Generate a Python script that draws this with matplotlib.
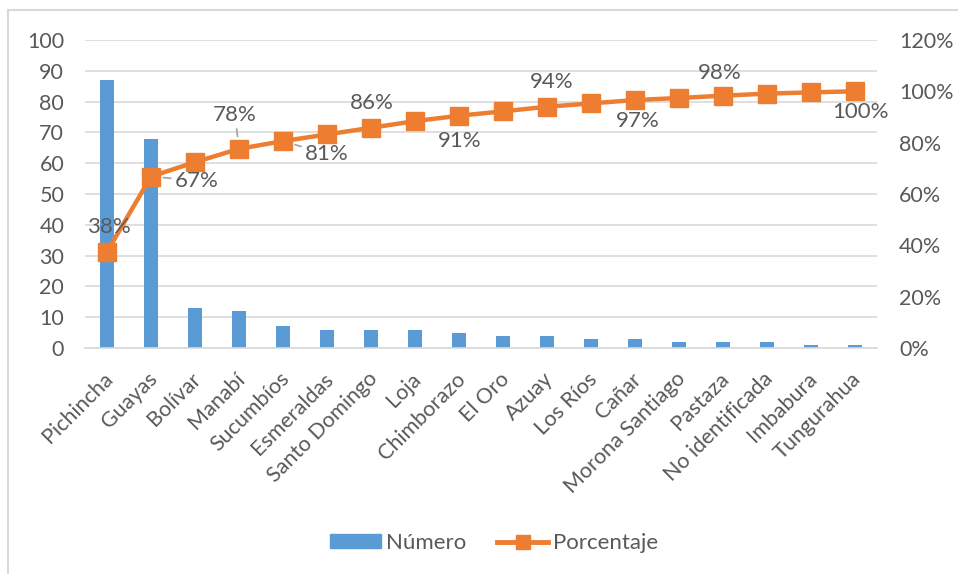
import matplotlib
matplotlib.use('Agg')
import matplotlib.pyplot as plt
import matplotlib.ticker as ticker
import matplotlib.transforms as mtransforms
from matplotlib.patches import Patch
from matplotlib.lines import Line2D

plt.rcParams['font.family'] = ['Lato', 'DejaVu Sans']

provincias = ['Pichincha', 'Guayas', 'Bolívar', 'Manabí', 'Sucumbíos', 'Esmeraldas',
              'Santo Domingo', 'Loja', 'Chimborazo', 'El Oro', 'Azuay', 'Los Ríos',
              'Cañar', 'Morona Santiago', 'Pastaza', 'No identificada', 'Imbabura',
              'Tungurahua']
numero = [87, 68, 13, 12, 7, 6, 6, 6, 5, 4, 4, 3, 3, 2, 2, 2, 1, 1]
porcentaje = [37.5, 66.8, 72.4, 77.6, 80.6, 83.2, 85.8, 88.4, 90.5, 92.2,
              94.0, 95.3, 96.6, 97.4, 98.3, 99.1, 99.6, 100.0]
etiquetas = ['38%', '67%', None, '78%', '81%', None, '86%', None, '91%', None,
             '94%', None, '97%', None, '98%', None, None, '100%']

# label offsets in pixels (dx, dy with y up) and whether a leader line is drawn
offsets = {0: (2, 25, False), 1: (46, -4, True), 3: (-4, 34, True), 4: (44, -13, True),
           6: (1, 25, False), 8: (1, -25, False), 10: (5, 25, False), 12: (3, -21, False),
           14: (-3, 23, False), 17: (5, -21, False)}

azul = '#5B9BD5'
naranja = '#ED7D31'
gris = '#595959'
grid_c = '#D9D9D9'

W, H = 958, 574
fig = plt.figure(figsize=(W / 100, H / 100), dpi=100)
ax = fig.add_axes([85 / W, 1 - 348 / H, (877 - 85) / W, (348 - 40) / H])
ax2 = ax.twinx()

x = range(len(provincias))
ax.bar(x, numero, width=0.32, color=azul, zorder=2)
ax.set_ylim(0, 100)
ax.set_xlim(-0.5, len(provincias) - 0.5)
ax.yaxis.set_major_locator(ticker.MultipleLocator(10))
ax.grid(axis='y', color=grid_c, linewidth=1.2, zorder=0)
ax.set_axisbelow(True)

ax2.plot(x, porcentaje, color=naranja, linewidth=3.2, marker='s', markersize=13, zorder=3)
ax2.set_ylim(0, 120)
ax2.yaxis.set_major_locator(ticker.MultipleLocator(20))
ax2.yaxis.set_major_formatter(ticker.FuncFormatter(lambda v, p: f'{v:.0f}%'))

for a in (ax, ax2):
    for s in a.spines.values():
        s.set_visible(False)
    a.tick_params(length=0, labelsize=15.5, colors=gris)
ax.spines['bottom'].set_visible(True)
ax.spines['bottom'].set_color(grid_c)
ax.spines['bottom'].set_linewidth(1.2)
ax.tick_params(axis='y', pad=15)
ax2.tick_params(axis='y', pad=16)

ax.set_xticks(list(x))
ax.set_xticklabels(provincias, rotation=45, ha='right', va='top', rotation_mode='anchor')
ax.tick_params(axis='x', pad=15)
shift = mtransforms.ScaledTranslation(-4 / 100, 0, fig.dpi_scale_trans)
for lbl in ax.get_xticklabels():
    lbl.set_transform(lbl.get_transform() + shift)

for i, txt in enumerate(etiquetas):
    if txt is None:
        continue
    dx, dy, leader = offsets[i]
    props = dict(arrowstyle='-', color='#A6A6A6', lw=1.3, shrinkA=1, shrinkB=9) if leader else None
    ax2.annotate(txt, (i, porcentaje[i]), xytext=(dx, dy), textcoords='offset pixels',
                 ha='center', va='center', fontsize=16, color=gris,
                 arrowprops=props, zorder=4)

handles = [Patch(facecolor=azul, edgecolor=azul),
           Line2D([], [], color=naranja, linewidth=3.5, marker='s', markersize=10)]
fig.legend(handles, ['Número', 'Porcentaje'], loc='center', bbox_to_anchor=(494 / W, 1 - 543 / H),
           ncol=2, frameon=False, fontsize=16, labelcolor=gris, handlelength=2.3,
           handleheight=0.55, handletextpad=0.2, columnspacing=1.4)

# chart border (left and top edges visible in the reference)
fig.add_artist(Line2D([8 / W, 8 / W], [0, 1 - 10 / H], color=grid_c, linewidth=1.5))
fig.add_artist(Line2D([8 / W, 1], [1 - 10 / H, 1 - 10 / H], color=grid_c, linewidth=1.5))

fig.savefig('out.png', dpi=100)
